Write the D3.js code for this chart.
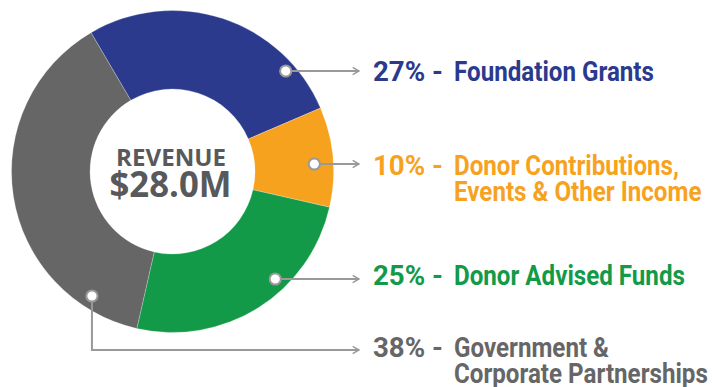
<!DOCTYPE html>
<html>
<head>
<meta charset="utf-8">
<script src="https://cdn.jsdelivr.net/npm/d3@7"></script>
<style>
  html, body { margin: 0; padding: 0; background: #ffffff; }
  svg { display: block; }
</style>
</head>
<body>
<svg id="chart" width="712" height="387"></svg>
<script>
// Revenue breakdown
const categories = ["Foundation Grants", "Donor Contributions, Events & Other Income", "Donor Advised Funds", "Government & Corporate Partnerships"];
const shares = [27, 10, 25, 38];
const colors = ["#2b3a8c", "#f7a21f", "#139a48", "#666666"];
// Category names as they wrap in the labels
const nameLines = [
  ["Foundation Grants"],
  ["Donor Contributions,", "Events & Other Income"],
  ["Donor Advised Funds"],
  ["Government &", "Corporate Partnerships"]
];
const centerTitle = "REVENUE";
const centerValue = "$28.0M";

// Callout anchors on the ring: angle (deg, clockwise from 12 o'clock) and radius
const anchorAngle = [48.4, 87.1, 136.3, 212.9];
const anchorRadius = [151.4, 142, 148.7, 148.3];
// Vertical position of each callout's horizontal run and first text baseline
const calloutY = [71, 164, 279, 350];
const labelBaseline = [81, 175, 285, 357];

const svg = d3.select("#chart");
const cx = 172.5, cy = 171.5;
const outerR = 161, innerR = 82.5;
const startDeg = -30.4;

const pie = d3.pie().sort(null).value(d => d)
  .startAngle(startDeg * Math.PI / 180)
  .endAngle((startDeg + 360) * Math.PI / 180);
const arc = d3.arc().innerRadius(innerR).outerRadius(outerR);

const g = svg.append("g").attr("transform", `translate(${cx},${cy})`);
g.selectAll("path.slice")
  .data(pie(shares))
  .join("path")
  .attr("class", "slice")
  .attr("d", arc)
  .attr("fill", (d, i) => colors[i])
  .attr("stroke", "#ffffff")
  .attr("stroke-width", 0.4)
  .attr("stroke-opacity", 0.6);

// Horizontally fit a text element to a target width
function fitWidth(textSel, x, y, width, anchor) {
  const w = textSel.node().getComputedTextLength();
  const k = width / w;
  textSel.attr("text-anchor", anchor)
    .attr("transform", `translate(${x},${y}) scale(${k},1)`);
  return k;
}

// Center text
const title = svg.append("text")
  .attr("font-family", "'Open Sans', sans-serif")
  .attr("font-weight", 700)
  .attr("font-size", 22.5)
  .attr("fill", "#58595b")
  .text(centerTitle);
fitWidth(title, 171, 166, 110, "middle");
const value = svg.append("text")
  .attr("font-family", "'Open Sans', sans-serif")
  .attr("font-weight", 700)
  .attr("font-size", 35)
  .attr("fill", "#58595b")
  .text(centerValue);
fitWidth(value, 170.5, 197, 122, "middle");

// Arrow marker
const defs = svg.append("defs");
defs.append("marker")
  .attr("id", "arrow")
  .attr("viewBox", "0 0 10 10")
  .attr("refX", 9).attr("refY", 5)
  .attr("markerWidth", 4.5).attr("markerHeight", 4.5)
  .attr("markerUnits", "strokeWidth")
  .attr("orient", "auto")
  .append("path")
  .attr("d", "M2,1 L9,5 L2,9")
  .attr("fill", "none")
  .attr("stroke", "#999999")
  .attr("stroke-width", 1.6);

const arrowX = 359;
const textX = 373;
const nameX = 454;
const lineGap = 26;
const labelFont = "Roboto, 'Liberation Sans', sans-serif";
const labelSize = 28;

function measure(str) {
  const p = svg.append("text")
    .attr("font-family", labelFont).attr("font-weight", 700).attr("font-size", labelSize)
    .style("white-space", "pre").text(str);
  const w = p.node().getComputedTextLength();
  p.remove();
  return w;
}
// Horizontal compression for the names and for the "NN% -" prefixes
const nameSqueeze = 200 / measure(nameLines[0][0]);
const prefixSqueeze = 70 / measure("27% -");

const callouts = svg.append("g");
shares.forEach((v, i) => {
  const a = anchorAngle[i] * Math.PI / 180;
  const px = cx + anchorRadius[i] * Math.sin(a);
  const py = cy - anchorRadius[i] * Math.cos(a);
  const y = calloutY[i];
  const straight = Math.abs(py - y) < 1.5;
  const pts = straight ? [[px, y], [arrowX, y]] : [[px, py], [px, y], [arrowX, y]];
  callouts.append("path")
    .attr("d", d3.line()(pts))
    .attr("fill", "none")
    .attr("stroke", "#999999")
    .attr("stroke-width", 2)
    .attr("marker-end", "url(#arrow)");
  callouts.append("circle")
    .attr("cx", px).attr("cy", straight ? y : py)
    .attr("r", 5.6)
    .attr("fill", "#ffffff")
    .attr("stroke", "#999999")
    .attr("stroke-width", 2);

  const lbl = svg.append("g").attr("fill", colors[i])
    .attr("font-family", labelFont).attr("font-weight", 700).attr("font-size", labelSize);
  lbl.append("text")
    .attr("transform", `translate(${textX},${labelBaseline[i]}) scale(${prefixSqueeze},1)`)
    .text(`${v}% -`);
  const name = lbl.append("text")
    .attr("transform", `translate(${nameX},${labelBaseline[i]}) scale(${nameSqueeze},1)`);
  nameLines[i].forEach((line, j) => {
    name.append("tspan").attr("x", 0).attr("y", j * lineGap).text(line);
  });
});
</script>
</body>
</html>
